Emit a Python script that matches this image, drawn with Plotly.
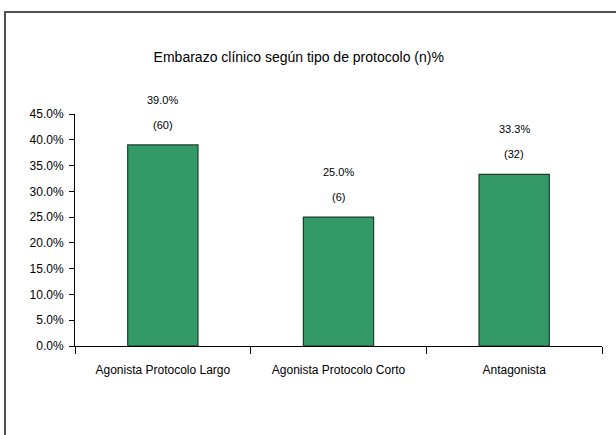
import plotly.graph_objects as go

# Clinical pregnancy rate by stimulation protocol
categories = ["Agonista Protocolo Largo", "Agonista Protocolo Corto", "Antagonista"]
pregnancy_pct = [39.0, 25.0, 33.3]
pregnancy_n = [60, 6, 32]
y_ticks = [0, 5, 10, 15, 20, 25, 30, 35, 40, 45]
title_text = "Embarazo clínico según tipo de protocolo (n)%"

FONT = "Liberation Sans, Arial, sans-serif"
W, H = 616, 435
L, R, T, B = 75, 14, 114, 89

fig = go.Figure()
fig.add_trace(go.Bar(
    x=categories,
    y=pregnancy_pct,
    marker=dict(color="#339966", line=dict(color="#1f3d2a", width=1.2)),
    hoverinfo="x+y",
))

# Two-line value labels above each bar: percentage and (n)
for cat, pct, n in zip(categories, pregnancy_pct, pregnancy_n):
    fig.add_annotation(x=cat, y=pct, text=f"{pct:.1f}%", showarrow=False,
                       yanchor="middle", yshift=45,
                       font=dict(family=FONT, size=11, color="black"))
    fig.add_annotation(x=cat, y=pct, text=f"({n})", showarrow=False,
                       yanchor="middle", yshift=20,
                       font=dict(family=FONT, size=11, color="black"))

# Outer chart frame (extends past the right and bottom edges)
pw, ph = W - L - R, H - T - B
def px_x(x):
    return (x - L) / pw
def px_y(y):
    return (H - B - y) / ph
fig.add_shape(type="rect", xref="paper", yref="paper",
              x0=px_x(5), x1=px_x(625), y0=px_y(12), y1=px_y(445),
              line=dict(color="#505050", width=2), fillcolor="rgba(0,0,0,0)",
              layer="below")

fig.update_layout(
    width=W, height=H,
    margin=dict(l=L, r=R, t=T, b=B),
    paper_bgcolor="white", plot_bgcolor="white",
    showlegend=False,
    bargap=0.6,
    title=dict(text=title_text, x=0.485, y=1 - 57 / H, xanchor="center", yanchor="middle",
               font=dict(family=FONT, size=14, color="black")),
    font=dict(family=FONT, size=11, color="black"),
)
fig.update_xaxes(
    type="category", range=[-0.5, 2.5], tickson="boundaries",
    showline=True, linecolor="black", linewidth=1,
    ticks="outside", ticklen=7, tickcolor="black",
    showgrid=False, zeroline=False,
    ticklabelstandoff=13,
    tickfont=dict(family=FONT, size=12, color="black"),
)
fig.update_yaxes(
    range=[0, 45], tickvals=y_ticks,
    ticktext=[f"{v:.1f}%" for v in y_ticks],
    showline=True, linecolor="black", linewidth=1,
    ticks="outside", ticklen=5, tickcolor="black",
    showgrid=False, zeroline=False,
    ticklabelstandoff=3,
    tickfont=dict(family=FONT, size=12, color="black"),
)

fig.write_html("out.html")
